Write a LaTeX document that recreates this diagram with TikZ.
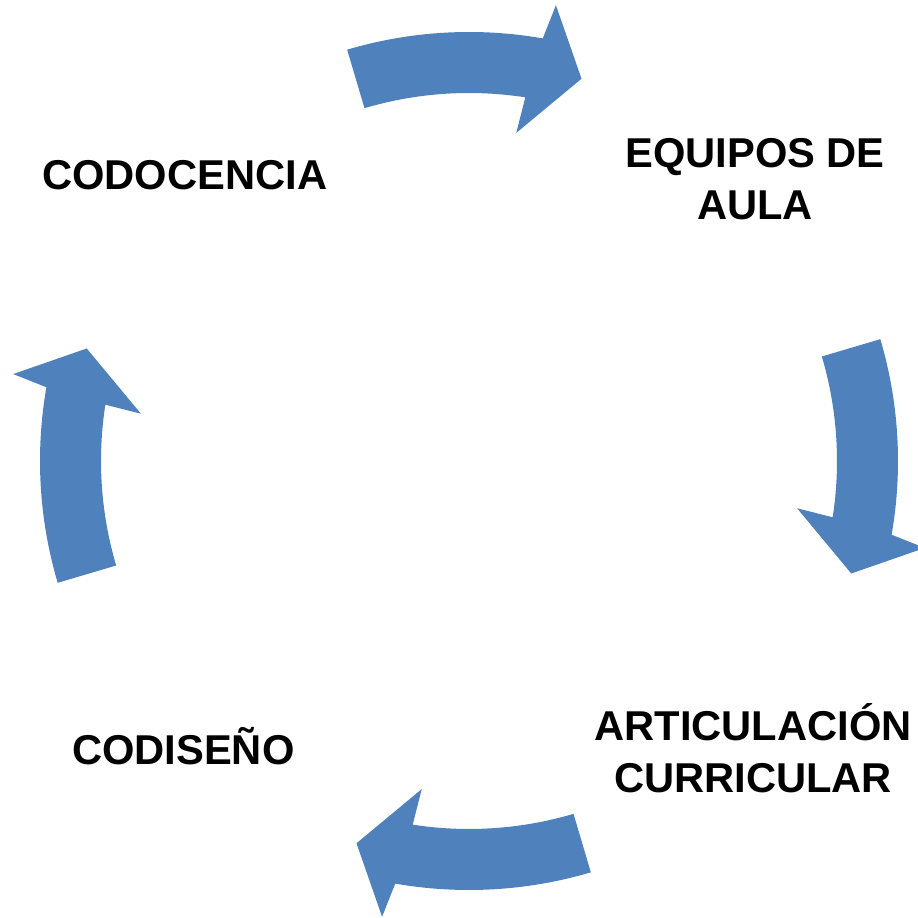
\documentclass[tikz,border=0pt]{standalone}
\usepackage{fontspec}
\setmainfont{Liberation Sans}
\usetikzlibrary{calc}
\definecolor{arrowblue}{RGB}{79,129,189}
\tikzset{
  cyclearrow/.style={fill=arrowblue, draw=none},
  lbl/.style={font=\bfseries\fontsize{41.7}{52.5}\selectfont, inner sep=0pt, align=center, anchor=base, text=black}
}
\begin{document}
\begin{tikzpicture}
\useasboundingbox (0pt,0pt) rectangle (918pt,918pt);
\coordinate (C) at (469pt,457pt);
\foreach \t in {106.5,16.5,-73.5,196.5}{
  \fill[cyclearrow]
    ($(C)+(\t:429pt)$) arc[start angle=\t, end angle=\t-26.4, radius=429pt]
    -- ($(C)+(\t-27.3:464pt)$)
    -- ($(C)+(\t-32.9:398.5pt)$)
    -- ($(C)+(\t-24.7:331.5pt)$)
    -- ($(C)+(\t-25.3:368pt)$)
    arc[start angle=\t-25.3, end angle=\t, radius=368pt]
    -- cycle;
}
\node[lbl] (codocencia) at (184.7pt,728pt) {CODOCENCIA};
\node[lbl] (equipos) at (755pt,698pt) {EQUIPOS DE\\AULA};
\node[lbl] (articulacion) at (753pt,125pt) {ARTICULACIÓN\\CURRICULAR};
\node[lbl] (codiseno) at (183.3pt,153pt) {CODISEÑO};
\end{tikzpicture}
\end{document}
